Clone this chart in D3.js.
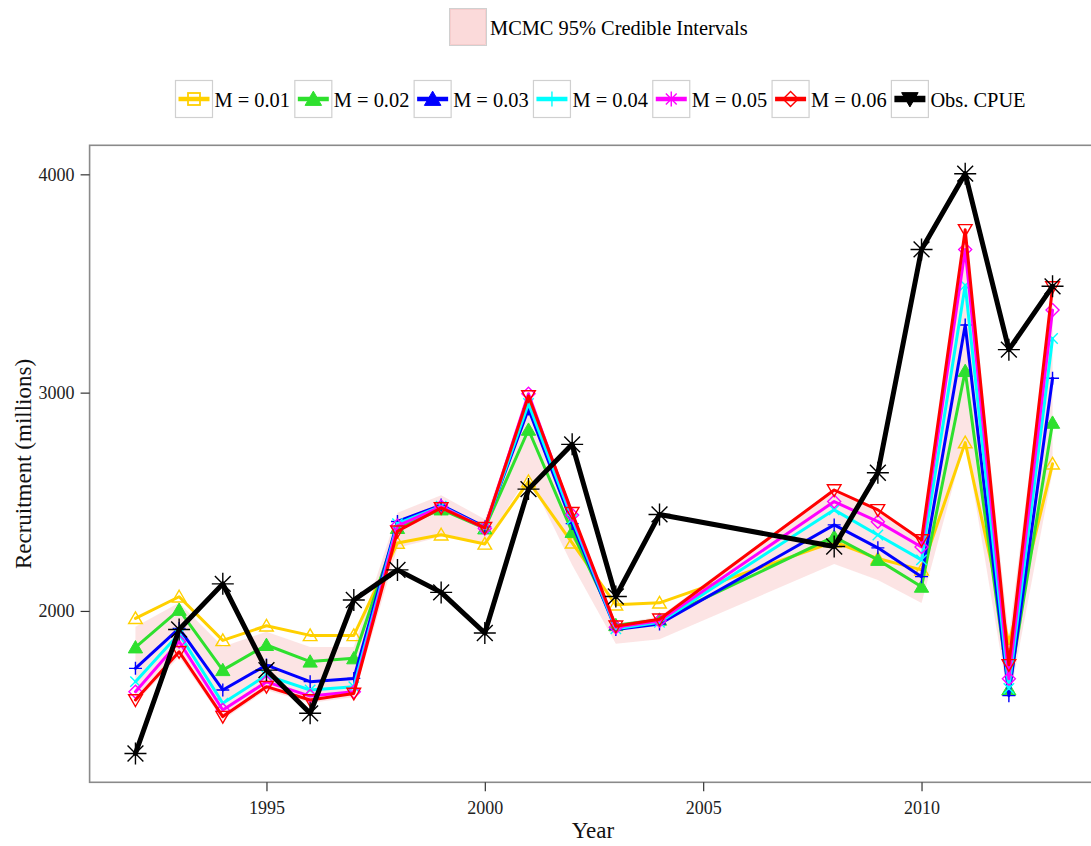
<!DOCTYPE html>
<html>
<head>
<meta charset="utf-8">
<script src="https://cdn.jsdelivr.net/npm/d3@7"></script>
<style>
  html, body { margin: 0; padding: 0; background: #fff; }
  svg { display: block; font-family: "Liberation Serif", "Times New Roman", serif; }
</style>
</head>
<body>
<svg id="chart" width="1091" height="846"></svg>
<script>
// ---------------- data ----------------
const years = [1992, 1993, 1994, 1995, 1996, 1997, 1998, 1999, 2000, 2001, 2002, 2003, 2004, 2008, 2009, 2010, 2011, 2012, 2013];

const m001 = [1966, 2065, 1865, 1932, 1888, 1888, 2311, 2349, 2307, 2593, 2312, 2028, 2037, 2317, 2240, 2188, 2771, 1850, 2674];
const m002 = [1833, 2005, 1729, 1844, 1768, 1783, 2380, 2465, 2378, 2830, 2362, 1935, 1960, 2340, 2234, 2111, 3099, 1640, 2862];
const m003 = [1737, 1920, 1638, 1752, 1676, 1691, 2410, 2485, 2385, 2925, 2400, 1915, 1940, 2394, 2289, 2157, 3310, 1612, 3066];
const m004 = [1676, 1895, 1577, 1705, 1638, 1653, 2400, 2480, 2380, 2950, 2420, 1918, 1948, 2463, 2348, 2234, 3492, 1645, 3248];
const m005 = [1630, 1860, 1546, 1675, 1610, 1630, 2390, 2478, 2378, 2995, 2440, 1925, 1955, 2501, 2409, 2293, 3656, 1689, 3378];
const m006 = [1592, 1813, 1516, 1653, 1592, 1622, 2365, 2472, 2381, 2985, 2450, 1930, 1962, 2554, 2463, 2325, 3746, 1753, 3484];
const obsCPUE = [1347, 1915, 2124, 1729, 1531, 2050, 2188, 2085, 1899, 2558, 2763, 2066, 2442, 2295, 2633, 3656, 4003, 3197, 3487];

const ciLow  = [1578, 1790, 1500, 1638, 1578, 1606, 2290, 2340, 2310, 2620, 2210, 1850, 1870, 2215, 2142, 2036, 2780, 1580, 2640];
const ciHigh = [1928, 2037, 1836, 1905, 1835, 1835, 2450, 2530, 2420, 2990, 2460, 1940, 1975, 2560, 2470, 2330, 3750, 1880, 3490];

const xTicks = [1995, 2000, 2005, 2010];
const yTicks = [2000, 3000, 4000];

const seriesNames = ["M = 0.01", "M = 0.02", "M = 0.03", "M = 0.04", "M = 0.05", "M = 0.06", "Obs. CPUE"];
const ribbonLabel = "MCMC 95% Credible Intervals";

// ---------------- styles ----------------
const seriesDefs = [
  { name: seriesNames[0], values: m001, color: "#FFD000", plotShape: "triOpen",  keyShape: "squareOpen", width: 3 },
  { name: seriesNames[1], values: m002, color: "#2EE02E", plotShape: "triFill",  keyShape: "triFill",    width: 3 },
  { name: seriesNames[2], values: m003, color: "#0000FF", plotShape: "plus",     keyShape: "triFill",    width: 3 },
  { name: seriesNames[3], values: m004, color: "#00FFFF", plotShape: "cross",    keyShape: "plus",       width: 3 },
  { name: seriesNames[4], values: m005, color: "#FF00FF", plotShape: "diamond",  keyShape: "asterisk",   width: 3 },
  { name: seriesNames[5], values: m006, color: "#FF0000", plotShape: "triDown",  keyShape: "diamond",    width: 3 },
  { name: seriesNames[6], values: obsCPUE, color: "#000000", plotShape: "asterisk", keyShape: "triDownFill", width: 5 }
];

const svg = d3.select("#chart");
const panel = { left: 89.6, right: 1098.4, top: 145.3, bottom: 782.3 };

const x = d3.scaleLinear().domain([1990.95, 2014.05]).range([panel.left, panel.right]);
const y = d3.scaleLinear().domain([1215, 4133]).range([panel.bottom, panel.top]);

// clip
svg.append("defs").append("clipPath").attr("id", "clip")
  .append("rect").attr("x", panel.left).attr("y", panel.top)
  .attr("width", panel.right - panel.left).attr("height", panel.bottom - panel.top);

// ribbon
const ribbonData = years.map((yr, i) => ({ yr, lo: ciLow[i], hi: ciHigh[i] }));
const area = d3.area().x(d => x(d.yr)).y0(d => y(d.lo)).y1(d => y(d.hi));
const plotG = svg.append("g").attr("clip-path", "url(#clip)");
plotG.append("path").datum(ribbonData).attr("d", area)
  .attr("fill", "#FBDADA").attr("fill-opacity", 0.72);

// symbol drawing
function drawShape(g, shape, cx, cy, size, color) {
  const s = size / 2;
  const sw = 1.4;
  switch (shape) {
    case "triOpen":
      g.append("path").attr("d", `M${cx},${cy - s} L${cx + s * 1.05},${cy + s * 0.8} L${cx - s * 1.05},${cy + s * 0.8} Z`)
        .attr("fill", "none").attr("stroke", color).attr("stroke-width", sw);
      break;
    case "triFill":
      g.append("path").attr("d", `M${cx},${cy - s * 1.05} L${cx + s * 1.1},${cy + s * 0.85} L${cx - s * 1.1},${cy + s * 0.85} Z`)
        .attr("fill", color).attr("stroke", color).attr("stroke-width", 1);
      break;
    case "triDown":
      g.append("path").attr("d", `M${cx},${cy + s} L${cx + s * 1.05},${cy - s * 0.8} L${cx - s * 1.05},${cy - s * 0.8} Z`)
        .attr("fill", "none").attr("stroke", color).attr("stroke-width", sw);
      break;
    case "triDownFill":
      g.append("path").attr("d", `M${cx},${cy + s * 1.05} L${cx + s * 1.1},${cy - s * 0.85} L${cx - s * 1.1},${cy - s * 0.85} Z`)
        .attr("fill", color).attr("stroke", color).attr("stroke-width", 1);
      break;
    case "plus":
      g.append("path").attr("d", `M${cx - s},${cy} L${cx + s},${cy} M${cx},${cy - s} L${cx},${cy + s}`)
        .attr("stroke", color).attr("stroke-width", sw).attr("fill", "none");
      break;
    case "cross": {
      const k = s * 0.8;
      g.append("path").attr("d", `M${cx - k},${cy - k} L${cx + k},${cy + k} M${cx - k},${cy + k} L${cx + k},${cy - k}`)
        .attr("stroke", color).attr("stroke-width", sw).attr("fill", "none");
      break;
    }
    case "diamond":
      g.append("path").attr("d", `M${cx},${cy - s} L${cx + s},${cy} L${cx},${cy + s} L${cx - s},${cy} Z`)
        .attr("fill", "none").attr("stroke", color).attr("stroke-width", sw);
      break;
    case "squareOpen": {
      const k = s * 0.8;
      g.append("rect").attr("x", cx - k).attr("y", cy - k).attr("width", 2 * k).attr("height", 2 * k)
        .attr("fill", "none").attr("stroke", color).attr("stroke-width", 1.8);
      break;
    }
    case "asterisk": {
      const k = s * 0.72;
      g.append("path").attr("d",
        `M${cx - s},${cy} L${cx + s},${cy} M${cx},${cy - s} L${cx},${cy + s} ` +
        `M${cx - k},${cy - k} L${cx + k},${cy + k} M${cx - k},${cy + k} L${cx + k},${cy - k}`)
        .attr("stroke", color).attr("stroke-width", sw).attr("fill", "none");
      break;
    }
  }
}

// series lines + points
const line = d3.line().x(d => x(d.yr)).y(d => y(d.v));
seriesDefs.forEach(sd => {
  const pts = years.map((yr, i) => ({ yr, v: sd.values[i] }));
  plotG.append("path").datum(pts).attr("d", line)
    .attr("fill", "none").attr("stroke", sd.color).attr("stroke-width", sd.width)
    .attr("stroke-linejoin", "round").attr("stroke-linecap", "round");
  const pg = plotG.append("g");
  const size = sd.plotShape === "asterisk" ? 22 : 13;
  pts.forEach(p => drawShape(pg, sd.plotShape, x(p.yr), y(p.v), size, sd.color));
});

// panel border
svg.append("rect").attr("x", panel.left).attr("y", panel.top)
  .attr("width", panel.right - panel.left).attr("height", panel.bottom - panel.top)
  .attr("fill", "none").attr("stroke", "#8a8a8a").attr("stroke-width", 1.6);

// axes
const xAxis = d3.axisBottom(x).tickValues(xTicks).tickSize(9).tickPadding(6).tickFormat(d3.format("d"));
const gx = svg.append("g").attr("transform", `translate(0,${panel.bottom})`).call(xAxis);
gx.select(".domain").remove();
gx.selectAll(".tick line").attr("stroke", "#333").attr("stroke-width", 1.2);
gx.selectAll(".tick text").attr("font-size", 18).attr("fill", "#222")
  .attr("font-family", "Liberation Serif, serif").attr("dy", "0.95em");

const yAxis = d3.axisLeft(y).tickValues(yTicks).tickSize(9).tickPadding(6).tickFormat(d3.format("d"));
const gy = svg.append("g").attr("transform", `translate(${panel.left},0)`).call(yAxis);
gy.select(".domain").remove();
gy.selectAll(".tick line").attr("stroke", "#333").attr("stroke-width", 1.2);
gy.selectAll(".tick text").attr("font-size", 18).attr("fill", "#222")
  .attr("font-family", "Liberation Serif, serif");

// axis titles
svg.append("text").attr("x", 593).attr("y", 838).attr("text-anchor", "middle")
  .attr("font-size", 23).attr("fill", "#111").text("Year");
svg.append("text").attr("transform", "translate(31,464) rotate(-90)").attr("text-anchor", "middle")
  .attr("font-size", 23).attr("fill", "#111").text("Recruitment (millions)");

// legend 1 : ribbon
const lg1 = svg.append("g");
lg1.append("rect").attr("x", 449.5).attr("y", 8.5).attr("width", 37).attr("height", 37)
  .attr("fill", "#F2F2F2").attr("stroke", "#d0d0d0").attr("stroke-width", 1);
lg1.append("rect").attr("x", 450.5).attr("y", 9.5).attr("width", 35).attr("height", 35)
  .attr("fill", "#FBDADA").attr("stroke", "#F5C8C8").attr("stroke-width", 0.8);
lg1.append("text").attr("x", 490).attr("y", 35).attr("font-size", 20.4).attr("fill", "#000").text(ribbonLabel);

// legend 2 : series
const lg2 = svg.append("g");
let lx = 175.5;
const ly = 80.5, kb = 37;
seriesDefs.forEach(sd => {
  lg2.append("rect").attr("x", lx).attr("y", ly).attr("width", kb).attr("height", kb)
    .attr("fill", "#fff").attr("stroke", "#d0d0d0").attr("stroke-width", 1.2);
  lg2.append("line").attr("x1", lx + 3).attr("x2", lx + kb - 3)
    .attr("y1", ly + kb / 2).attr("y2", ly + kb / 2)
    .attr("stroke", sd.color).attr("stroke-width", sd.width + 1.5);
  drawShape(lg2, sd.keyShape, lx + kb / 2, ly + kb / 2, 15, sd.color);
  const t = lg2.append("text").attr("x", lx + kb + 2).attr("y", ly + 26)
    .attr("font-size", 20.4).attr("fill", "#000").text(sd.name);
  lx += kb + 2 + t.node().getComputedTextLength() + 4.8;
});
</script>
</body>
</html>
